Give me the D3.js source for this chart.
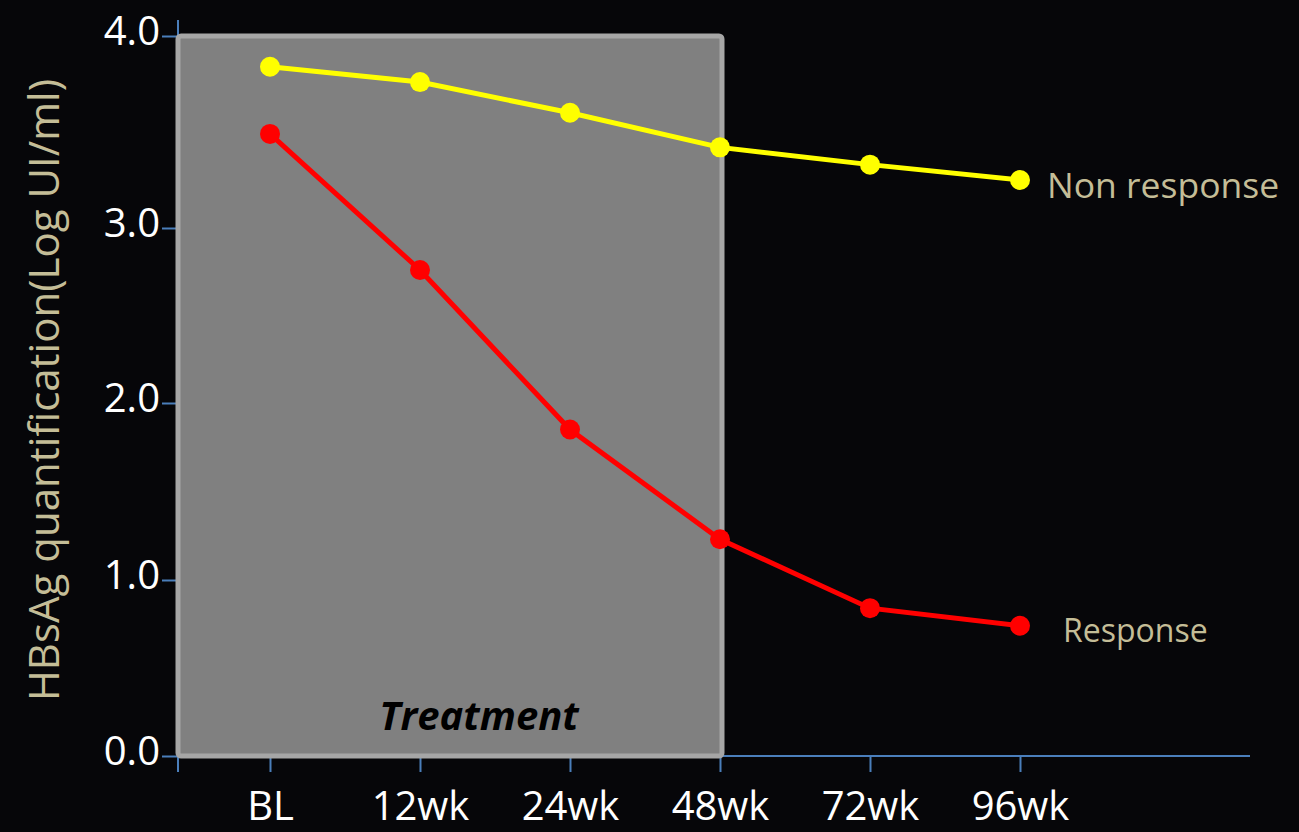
<!DOCTYPE html>
<html>
<head>
<meta charset="utf-8">
<script src="https://cdn.jsdelivr.net/npm/d3@7"></script>
<style>
  html, body { margin: 0; padding: 0; background: #060609; }
  svg { display: block; }
  text { font-family: "Open Sans", sans-serif; }
</style>
</head>
<body>
<div id="chart"></div>
<script>
// data
const categories = ["BL", "12wk", "24wk", "48wk", "72wk", "96wk"];
const nonResponse = [3.84, 3.76, 3.60, 3.42, 3.33, 3.25];
const response = [3.49, 2.76, 1.85, 1.23, 0.84, 0.74];
const yTicks = [0, 1, 2, 3, 4];
const yLabel = "HBsAg quantification(Log UI/ml)";

const width = 1299, height = 832;
const axisColor = "#4a7ebb";
const tan = "#c4bd97";

const svg = d3.select("#chart")
  .append("svg")
    .attr("width", width)
    .attr("height", height);

svg.append("rect")
  .attr("width", width)
  .attr("height", height)
  .attr("fill", "#060609");

const x0 = 178, xEnd = 1250;

const x = d3.scalePoint()
  .domain(categories)
  .range([270, 1020]);

// the slide's value axis is not quite even, so the scale is piecewise
const y = d3.scaleLinear()
  .domain([0, 1, 2, 3, 4])
  .range([756, 580, 403, 228, 36]);

// x axis
const xAxis = svg.append("g")
  .attr("transform", `translate(0,${y(0)})`)
  .call(d3.axisBottom(x).tickSize(16).tickPadding(20).tickSizeOuter(0));
xAxis.select(".domain").remove();
xAxis.append("line")
  .attr("x1", x0).attr("x2", xEnd)
  .attr("stroke", axisColor).attr("stroke-width", 2);
xAxis.append("line")
  .attr("x1", x0).attr("x2", x0)
  .attr("y1", 0).attr("y2", 16)
  .attr("stroke", axisColor).attr("stroke-width", 2);
xAxis.selectAll(".tick line").attr("stroke", axisColor).attr("stroke-width", 2);
xAxis.selectAll(".tick text")
  .attr("fill", "white")
  .style("font-size", "40px")
  .style("font-family", "'Open Sans', sans-serif");

// y axis
const yAxis = svg.append("g")
  .attr("transform", `translate(${x0},0)`)
  .call(d3.axisLeft(y).tickValues(yTicks).tickFormat(d3.format(".1f")).tickSize(16).tickPadding(2).tickSizeOuter(0));
yAxis.select(".domain").remove();
yAxis.append("line")
  .attr("y1", y(4) - 16).attr("y2", y(0))
  .attr("stroke", axisColor).attr("stroke-width", 2);
yAxis.selectAll(".tick line").attr("stroke", axisColor).attr("stroke-width", 2);
yAxis.selectAll(".tick text")
  .attr("fill", "white")
  .attr("dy", "0.2em")
  .style("font-size", "40px")
  .style("font-family", "'Open Sans', sans-serif");

// y axis title
svg.append("text")
  .attr("transform", `translate(59,${(y(4) + y(0)) / 2 - 6}) rotate(-90)`)
  .attr("text-anchor", "middle")
  .attr("fill", tan)
  .style("font-size", "42px")
  .text(yLabel);

// treatment period box
svg.append("rect")
  .attr("x", x0)
  .attr("y", y(4))
  .attr("width", x("48wk") - x0 + 2)
  .attr("height", y(0) - y(4))
  .attr("rx", 3)
  .attr("fill", "#808080")
  .attr("stroke", "#a6a6a6")
  .attr("stroke-width", 5);

svg.append("text")
  .attr("x", (x0 + x("48wk")) / 2 + 30)
  .attr("y", y(0) - 26)
  .attr("text-anchor", "middle")
  .attr("fill", "black")
  .style("font-size", "40px")
  .style("font-weight", "bold")
  .style("font-style", "italic")
  .text("Treatment");

// series
const line = d3.line()
  .x((d, i) => x(categories[i]))
  .y(d => y(d));

function drawSeries(values, color, label, dx, dy, size) {
  svg.append("path")
    .datum(values)
    .attr("d", line)
    .attr("fill", "none")
    .attr("stroke", color)
    .attr("stroke-width", 5);

  svg.selectAll(null)
    .data(values)
    .enter()
    .append("circle")
    .attr("cx", (d, i) => x(categories[i]))
    .attr("cy", d => y(d))
    .attr("r", 10)
    .attr("fill", color);

  const last = values.length - 1;
  svg.append("text")
    .attr("x", x(categories[last]) + dx)
    .attr("y", y(values[last]) + dy)
    .attr("fill", tan)
    .style("font-size", size)
    .text(label);
}

drawSeries(nonResponse, "#ffff00", "Non response", 27, 18, "35.5px");
drawSeries(response, "#ff0000", "Response", 43, 16, "32px");
</script>
</body>
</html>
